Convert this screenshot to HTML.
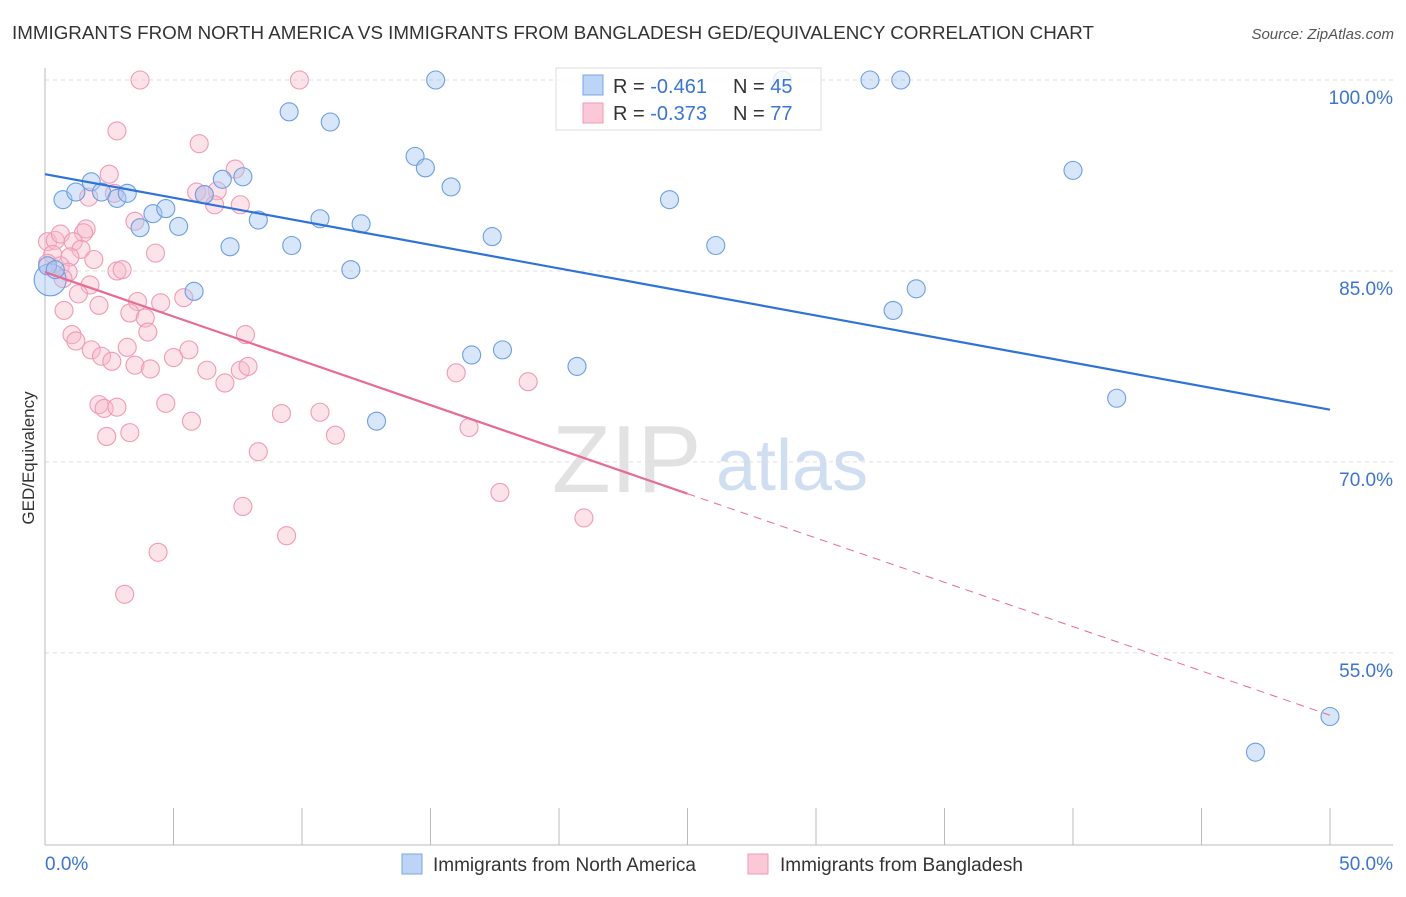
<!DOCTYPE html>
<html><head><meta charset="utf-8"><style>
body{margin:0;background:#fff;font-family:"Liberation Sans",sans-serif}
svg text{font-family:"Liberation Sans",sans-serif}
</style></head><body>
<svg id="c" width="1406" height="892">
<text x="12" y="39" font-size="18" fill="#333" textLength="1082" lengthAdjust="spacingAndGlyphs">IMMIGRANTS FROM NORTH AMERICA VS IMMIGRANTS FROM BANGLADESH GED/EQUIVALENCY CORRELATION CHART</text>
<text x="1394" y="39" font-size="15" fill="#555" font-style="italic" text-anchor="end">Source: ZipAtlas.com</text>
<text x="34" y="458" font-size="17" fill="#333" text-anchor="middle" transform="rotate(-90 34 458)">GED/Equivalency</text>
<g><text x="552" y="492" font-size="96" fill="#e2e2e2" font-family="Liberation Serif">ZIP</text><text x="716" y="490" font-size="72" fill="#d0def2">atlas</text></g>
<g id="grid"></g><g id="axes"></g><g id="pts"></g><g id="lines"></g>
<g>
<rect x="556" y="68" width="265" height="62" fill="#fff" fill-opacity="0.8" stroke="#ddd"/>
<rect x="583" y="75" width="20" height="20" fill="#bcd4f5" stroke="#7aa6e6"/>
<rect x="583" y="103" width="20" height="20" fill="#fac8d6" stroke="#f09ab4"/>
<text x="613" y="93" font-size="20" fill="#333">R = <tspan fill="#3a74d6">-0.461</tspan><tspan x="733">N = </tspan><tspan fill="#3a74d6">45</tspan></text>
<text x="613" y="120" font-size="20" fill="#333">R = <tspan fill="#3a74d6">-0.373</tspan><tspan x="733">N = </tspan><tspan fill="#3a74d6">77</tspan></text>
</g>
<g>
<rect x="402" y="854" width="20" height="20" fill="#bcd4f5" stroke="#7aa6e6"/>
<text x="433" y="871" font-size="19" fill="#333">Immigrants from North America</text>
<rect x="748" y="854" width="20" height="20" fill="#fac8d6" stroke="#f09ab4"/>
<text x="780" y="871" font-size="19" fill="#333">Immigrants from Bangladesh</text>
</g>
</svg>
<script>
const yTicks=[100,85,70,55];
const yTickLabels=["100.0%","85.0%","70.0%","55.0%"];
const xTickLabels=["0.0%","50.0%"];
const blueX=[0.7,1.2,1.8,2.2,2.8,3.2,3.7,4.2,4.7,5.2,5.8,6.2,6.9,7.2,7.7,8.3,9.5,9.6,10.7,11.1,11.9,12.3,12.9,14.4,14.8,15.2,15.8,16.6,17.4,17.8,20.7,24.3,26.1,32.1,33.0,33.3,33.9,40.0,41.7,47.1,50.0,0.2,0.1,0.4,28.7];
const blueY=[90.6,91.2,92.0,91.2,90.7,91.1,88.4,89.5,89.9,88.5,83.4,91.0,92.2,86.9,92.4,89.0,97.5,87.0,89.1,96.7,85.1,88.7,73.2,94.0,93.1,100,91.6,78.4,87.7,78.8,77.5,90.6,87.0,100,81.9,100,83.6,92.9,75.0,47.2,50.0,84.3,85.4,85.1,100];
const pinkX=[3.7,9.9,2.8,6.0,7.4,2.5,5.9,6.7,6.2,6.6,7.6,1.7,2.7,1.6,1.5,3.5,4.3,0.1,0.4,0.6,0.3,1.1,1.4,1.9,0.97,0.1,0.6,0.9,0.7,2.8,3.0,1.75,1.3,2.1,3.6,4.5,5.4,3.3,3.9,0.74,1.05,1.2,4.0,7.8,1.8,2.2,2.6,3.2,3.5,4.1,5.0,5.6,6.3,7.6,7.9,7.0,2.1,2.3,2.8,4.7,9.2,10.7,5.7,2.4,3.3,11.3,8.3,16.5,16.0,18.8,7.7,9.4,4.4,3.1,17.7,20.97];
const pinkY=[100,100,96.0,95.0,93.0,92.6,91.2,91.3,91.0,90.2,90.2,90.8,91.1,88.3,88.0,88.9,86.4,87.3,87.4,87.9,86.3,87.3,86.7,85.9,86.1,85.6,85.4,84.9,84.4,85.0,85.1,83.9,83.2,82.3,82.6,82.5,82.9,81.7,81.3,81.9,80.0,79.5,80.2,80.0,78.8,78.3,77.9,79.0,77.6,77.3,78.2,78.8,77.2,77.2,77.5,76.2,74.5,74.2,74.3,74.6,73.8,73.9,73.2,72.0,72.3,72.1,70.8,72.7,77.0,76.3,66.5,64.2,62.9,59.6,67.6,65.6];
const blueTrend=[92.6,74.1];
const pinkTrend=[84.9,50.1];
const NS="http://www.w3.org/2000/svg";
const X=v=>45+v/50*1285, Y=v=>80+(100-v)*12.73;
function mk(t,a,p){const e=document.createElementNS(NS,t);for(const k in a)e.setAttribute(k,a[k]);document.getElementById(p).appendChild(e);return e;}
yTicks.forEach((t,i)=>{
 const g=mk('line',{x1:45,x2:1393,y1:Y(t),y2:Y(t),stroke:'#ddd','stroke-dasharray':'4,4'},'grid');
 
 
 const l=mk('text',{x:1393,y:Y(t)+24,'font-size':19,fill:'#3a74d6','text-anchor':'end'},'axes');l.textContent=yTickLabels[i];
 
 
});
let a=mk('line',{x1:45,x2:45,y1:68,y2:845,stroke:'#bbb'},'axes');


a=mk('line',{x1:45,x2:1393,y1:845,y2:845,stroke:'#bbb'},'axes');


for(let i=1;i<=10;i++){const t=mk('line',{x1:X(i*5),x2:X(i*5),y1:808,y2:845,stroke:'#bbb'},'axes');
 
 }
[[0,'start',45],[50,'end',1393]].forEach((d,i)=>{const t=mk('text',{x:d[2],y:870,'font-size':19,fill:'#3a74d6','text-anchor':d[1]},'axes');t.textContent=xTickLabels[i];
 
 });
pinkX.forEach((x,i)=>{const c=mk('circle',{cx:X(x),cy:Y(pinkY[i]),r:9,fill:'#f8b8cb','fill-opacity':0.4,stroke:'#f09ab4','stroke-width':1.1},'pts');
 
 });
blueX.forEach((x,i)=>{const c=mk('circle',{cx:X(x),cy:Y(blueY[i]),r:i==41?16:9,fill:'#a9c8f2','fill-opacity':0.45,stroke:'#6c9ee2','stroke-width':1.1},'pts');
 
 });
let L=mk('line',{x1:X(0),y1:Y(blueTrend[0]),x2:X(50),y2:Y(blueTrend[1]),stroke:'#2f72d8','stroke-width':2.2},'lines');


const pm=pinkTrend[0]+(pinkTrend[1]-pinkTrend[0])*0.5;
L=mk('line',{x1:X(0),y1:Y(pinkTrend[0]),x2:X(25),y2:Y(pm),stroke:'#e86a96','stroke-width':2.2},'lines');


L=mk('line',{x1:X(25),y1:Y(pm),x2:X(50),y2:Y(pinkTrend[1]),stroke:'#e86a96','stroke-width':1,'stroke-dasharray':'8,6'},'lines');


</script>
</body></html>
